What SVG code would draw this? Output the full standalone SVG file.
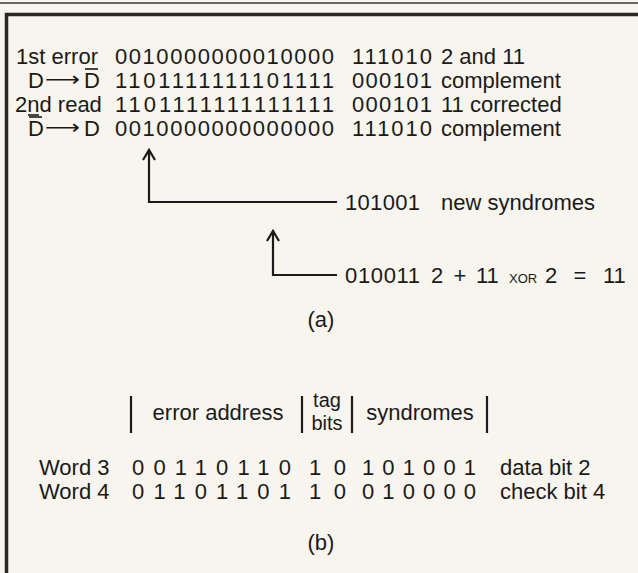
<svg xmlns="http://www.w3.org/2000/svg" width="638" height="573" viewBox="0 0 638 573">
<style>
text{font-family:"Liberation Sans",Arial,sans-serif;font-size:22px;fill:#1c1a18}
.e{text-anchor:end}
.m{text-anchor:middle}
.ar{font-family:"DejaVu Sans",sans-serif;font-size:20px}
.sc{font-size:13px}
.tb{font-size:20px}
.ln{stroke:#1c1a18;stroke-width:2.2;fill:none}
.bar{stroke:#1c1a18;stroke-width:1.6}
</style>
<rect width="638" height="573" fill="#f7f5ee"/>
<line x1="0" y1="3" x2="638" y2="3" stroke="#6a6660" stroke-width="2"/>
<path d="M6.5 573 V14.5 H638" fill="none" stroke="#2a2724" stroke-width="3.5"/>

<g id="row1">
<text x="98" y="64" class="e">1st error</text>
<text x="115" y="64" textLength="219" lengthAdjust="spacing">0010000000010000</text>
<text x="352" y="64" textLength="80" lengthAdjust="spacing">111010</text>
<text x="441" y="64">2 and 11</text>
</g>
<g id="row2">
<text x="28" y="88">D</text>
<text x="45" y="86" class="ar" textLength="35" lengthAdjust="spacingAndGlyphs">⟶</text>
<text x="84" y="88">D</text>
<line class="bar" x1="85" y1="69" x2="98" y2="69"/>
<text x="115" y="88" textLength="219" lengthAdjust="spacing">1101111111101111</text>
<text x="352" y="88" textLength="80" lengthAdjust="spacing">000101</text>
<text x="441" y="88">complement</text>
</g>
<g id="row3">
<text x="15" y="112">2nd read</text>
<line class="bar" x1="28" y1="115" x2="39" y2="115"/>
<text x="115" y="112" textLength="219" lengthAdjust="spacing">1101111111111111</text>
<text x="352" y="112" textLength="80" lengthAdjust="spacing">000101</text>
<text x="441" y="112">11 corrected</text>
</g>
<g id="row4">
<text x="28" y="136">D</text>
<line class="bar" x1="29" y1="117" x2="42" y2="117"/>
<text x="45" y="134" class="ar" textLength="35" lengthAdjust="spacingAndGlyphs">⟶</text>
<text x="84" y="136">D</text>
<text x="115" y="136" textLength="219" lengthAdjust="spacing">0010000000000000</text>
<text x="352" y="136" textLength="80" lengthAdjust="spacing">111010</text>
<text x="441" y="136">complement</text>
</g>

<g id="connectors">
<path class="ln" d="M149 150 V202 H337"/>
<path class="ln" d="M143 160 L149 150 L155 160"/>
<path class="ln" d="M273 231 V275 H337"/>
<path class="ln" d="M267 241 L273 231 L279 241"/>
</g>

<g id="syn1">
<text x="345" y="210" textLength="75" lengthAdjust="spacing">101001</text>
<text x="441" y="210">new syndromes</text>
</g>
<g id="syn2">
<text x="345" y="283" textLength="75" lengthAdjust="spacing">010011</text>
<text x="431" y="283">2</text>
<text x="460" y="283" class="m">+</text>
<text x="476" y="283">11</text>
<text x="509" y="283" class="sc">XOR</text>
<text x="545" y="283">2</text>
<text x="580" y="283" class="m">=</text>
<text x="603" y="283">11</text>
</g>
<text x="321" y="327" class="m">(a)</text>

<g id="header">
<line class="ln" x1="131" y1="396" x2="131" y2="433"/>
<line class="ln" x1="302" y1="396" x2="302" y2="433"/>
<line class="ln" x1="352" y1="396" x2="352" y2="433"/>
<line class="ln" x1="487" y1="396" x2="487" y2="433"/>
<text x="218" y="420" class="m">error address</text>
<text x="327" y="407" class="m tb">tag</text>
<text x="327" y="430" class="m tb">bits</text>
<text x="420" y="420" class="m">syndromes</text>
</g>
<g id="word3">
<text x="39" y="475">Word 3</text>
<text x="132" y="475" textLength="159" lengthAdjust="spacing">00110110</text>
<text x="309" y="475" textLength="37" lengthAdjust="spacing">10</text>
<text x="362" y="475" textLength="114" lengthAdjust="spacing">101001</text>
<text x="500" y="475">data bit 2</text>
</g>
<g id="word4">
<text x="39" y="499">Word 4</text>
<text x="132" y="499" textLength="159" lengthAdjust="spacing">01101101</text>
<text x="309" y="499" textLength="37" lengthAdjust="spacing">10</text>
<text x="362" y="499" textLength="114" lengthAdjust="spacing">010000</text>
<text x="500" y="499">check bit 4</text>
</g>
<text x="321" y="550" class="m">(b)</text>
</svg>
